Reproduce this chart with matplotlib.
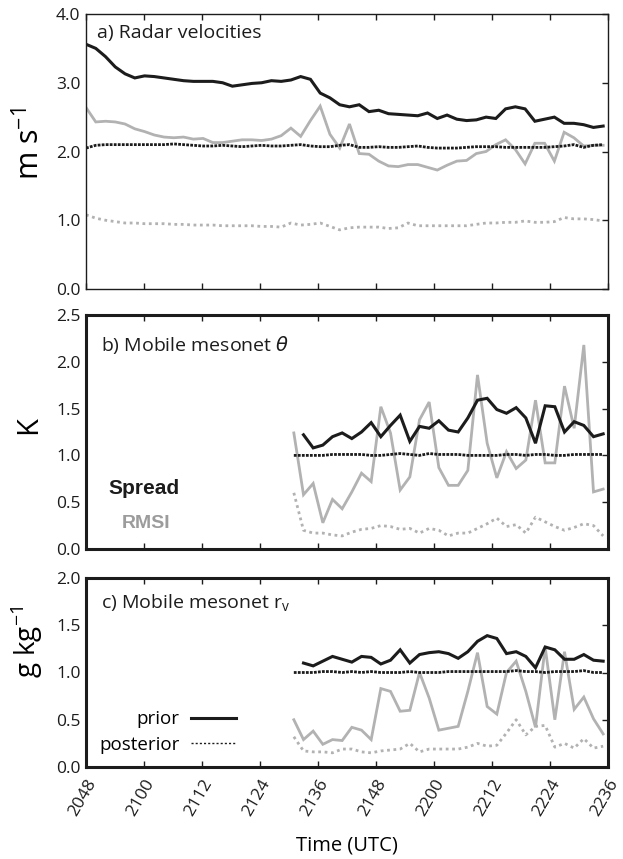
import matplotlib

matplotlib.use("Agg")
import matplotlib.pyplot as plt  # noqa: E402
import numpy as np
from matplotlib.lines import Line2D

plt.rcParams["font.family"] = ["Open Sans", "DejaVu Sans"]

# x axis: minutes after 2048 UTC
tick_minutes = np.arange(0, 109, 12)
tick_labels = ["2048", "2100", "2112", "2124", "2136", "2148", "2200", "2212", "2224", "2236"]

# a) radar velocities (every ~2 min for whole period)
t_radar = np.linspace(0, 107, 54)
radar_spread_prior = [
    3.56, 3.50, 3.38, 3.23, 3.13, 3.07, 3.10, 3.09, 3.07, 3.05,
    3.03, 3.02, 3.02, 3.02, 3.00, 2.95, 2.97, 2.99, 3.00, 3.03,
    3.02, 3.04, 3.09, 3.05, 2.85, 2.78, 2.68, 2.65, 2.68, 2.58,
    2.60, 2.55, 2.54, 2.53, 2.52, 2.56, 2.48, 2.53, 2.47, 2.45,
    2.46, 2.50, 2.48, 2.62, 2.65, 2.62, 2.44, 2.47, 2.50, 2.41,
    2.41, 2.39, 2.35, 2.37,
]
radar_rmsi_prior = [
    2.64, 2.43, 2.44, 2.43, 2.40, 2.33, 2.29, 2.24, 2.21, 2.20,
    2.21, 2.18, 2.19, 2.13, 2.13, 2.15, 2.17, 2.17, 2.16, 2.18,
    2.23, 2.34, 2.22, 2.45, 2.66, 2.25, 2.05, 2.40, 1.97, 1.96,
    1.86, 1.79, 1.78, 1.81, 1.81, 1.77, 1.73, 1.80, 1.86, 1.87,
    1.97, 2.00, 2.10, 2.17, 2.03, 1.82, 2.12, 2.12, 1.86, 2.28,
    2.20, 2.08, 2.09, 2.09,
]
radar_spread_post = [
    2.05, 2.09, 2.10, 2.10, 2.10, 2.10, 2.10, 2.10, 2.10, 2.11,
    2.10, 2.09, 2.08, 2.08, 2.09, 2.08, 2.07, 2.08, 2.09, 2.08,
    2.08, 2.09, 2.10, 2.08, 2.07, 2.07, 2.09, 2.10, 2.06, 2.06,
    2.07, 2.06, 2.06, 2.07, 2.08, 2.06, 2.05, 2.05, 2.05, 2.06,
    2.07, 2.07, 2.07, 2.06, 2.06, 2.06, 2.06, 2.06, 2.07, 2.08,
    2.10, 2.06, 2.09, 2.10,
]
radar_rmsi_post = [
    1.08, 1.03, 1.00, 0.98, 0.96, 0.96, 0.95, 0.95, 0.95, 0.94,
    0.94, 0.93, 0.93, 0.93, 0.92, 0.92, 0.92, 0.92, 0.91, 0.91,
    0.90, 0.96, 0.93, 0.94, 0.96, 0.91, 0.86, 0.89, 0.90, 0.90,
    0.90, 0.88, 0.89, 0.96, 0.92, 0.92, 0.92, 0.92, 0.92, 0.92,
    0.94, 0.96, 0.96, 0.97, 0.97, 0.99, 0.97, 0.97, 0.98, 1.04,
    1.02, 1.02, 1.01, 0.99,
]

# b) and c) mobile mesonet, starting ~2131 UTC
t_meso = np.arange(43, 108, 2)
theta_spread_prior = [
    np.nan, 1.22, 1.08, 1.11, 1.20, 1.24, 1.18, 1.25, 1.35, 1.20,
    1.32, 1.43, 1.15, 1.31, 1.29, 1.37, 1.27, 1.25, 1.40, 1.59,
    1.61, 1.49, 1.45, 1.51, 1.40, 1.13, 1.53, 1.52, 1.25, 1.36,
    1.32, 1.20, 1.23,
]
theta_rmsi_prior = [
    1.24, 0.58, 0.70, 0.28, 0.53, 0.43, 0.61, 0.81, 0.72, 1.52,
    1.24, 0.63, 0.77, 1.38, 1.57, 0.87, 0.68, 0.68, 0.84, 1.86,
    1.13, 0.76, 1.04, 0.86, 0.95, 1.59, 0.92, 0.92, 1.74, 1.29,
    2.18, 0.61, 0.64,
]
theta_spread_post = [
    1.00, 1.00, 1.00, 1.00, 1.01, 1.01, 1.01, 1.01, 1.00, 1.00,
    1.01, 1.02, 1.01, 1.00, 1.02, 1.01, 1.01, 1.01, 1.00, 1.00,
    1.00, 1.00, 1.01, 1.01, 1.00, 1.01, 1.01, 1.00, 1.00, 1.01,
    1.01, 1.01, 1.01,
]
theta_rmsi_post = [
    0.60, 0.20, 0.17, 0.17, 0.15, 0.14, 0.18, 0.21, 0.22, 0.25,
    0.24, 0.21, 0.22, 0.17, 0.22, 0.20, 0.14, 0.17, 0.17, 0.22,
    0.27, 0.33, 0.24, 0.26, 0.17, 0.34, 0.29, 0.24, 0.20, 0.23,
    0.27, 0.25, 0.14,
]

rv_spread_prior = [
    np.nan, 1.10, 1.07, 1.12, 1.17, 1.14, 1.11, 1.17, 1.16, 1.09,
    1.13, 1.24, 1.10, 1.19, 1.21, 1.22, 1.20, 1.15, 1.22, 1.33,
    1.39, 1.36, 1.20, 1.22, 1.17, 1.05, 1.27, 1.24, 1.14, 1.14,
    1.19, 1.13, 1.12,
]
rv_rmsi_prior = [
    0.50, 0.29, 0.38, 0.24, 0.29, 0.28, 0.42, 0.39, 0.29, 0.83,
    0.80, 0.59, 0.60, 1.00, 0.73, 0.39, 0.41, 0.43, 0.80, 1.21,
    0.64, 0.56, 1.00, 1.12, 0.80, 0.42, 1.27, 0.50, 1.22, 0.61,
    0.74, 0.51, 0.35,
]
rv_spread_post = [
    1.00, 1.00, 1.00, 1.01, 1.01, 1.00, 1.01, 1.00, 1.01, 1.00,
    1.00, 1.00, 1.01, 1.00, 1.00, 1.00, 1.01, 1.01, 1.01, 1.01,
    1.01, 1.01, 1.01, 1.02, 1.01, 1.01, 1.00, 1.01, 1.01, 1.01,
    1.02, 1.00, 1.00,
]
rv_rmsi_post = [
    0.32, 0.17, 0.16, 0.16, 0.15, 0.19, 0.19, 0.16, 0.15, 0.17,
    0.18, 0.19, 0.25, 0.16, 0.19, 0.19, 0.19, 0.19, 0.21, 0.25,
    0.22, 0.23, 0.36, 0.50, 0.34, 0.43, 0.44, 0.21, 0.25, 0.20,
    0.30, 0.20, 0.22,
]

BLACK = "#1c1c1c"
GRAY = "#b2b2b2"


def draw(ax, t, sp, rp, so, ro):
    ax.plot(t, rp, color=GRAY, lw=2.0, solid_joinstyle="miter")
    ax.plot(t, sp, color=BLACK, lw=2.2, solid_joinstyle="miter")
    ax.plot(t, ro, color=GRAY, lw=2.0, linestyle=(0, (1.0, 1.3)))
    ax.plot(t, so, color=BLACK, lw=2.0, linestyle=(0, (1.0, 0.45)))


def style(ax, ymax, step, frame_lw):
    ax.set_xlim(0, 108)
    ax.set_ylim(0, ymax)
    ax.set_xticks(tick_minutes)
    ax.set_yticks(np.arange(0, ymax + 0.001, step))
    ax.yaxis.set_major_formatter(plt.FuncFormatter(lambda v, _: f"{v:.1f}"))
    ax.tick_params(direction="in", top=True, right=True, length=4, width=1,
                   labelsize=12.5, colors=BLACK)
    ax.tick_params(axis="y", which="both", left=False, pad=4)
    for s in ax.spines.values():
        s.set_linewidth(frame_lw)
        s.set_color(BLACK)


fig = plt.figure(figsize=(6.23, 8.59), dpi=100)
L, W = 86 / 623, 522 / 623
ax_a = fig.add_axes([L, 1 - 289 / 859, W, 275 / 859])
ax_b = fig.add_axes([L, 1 - 549 / 859, W, 234 / 859])
ax_c = fig.add_axes([L, 1 - 767 / 859, W, 189 / 859])

draw(ax_a, t_radar, radar_spread_prior, radar_rmsi_prior, radar_spread_post, radar_rmsi_post)
draw(ax_b, t_meso, theta_spread_prior, theta_rmsi_prior, theta_spread_post, theta_rmsi_post)
draw(ax_c, t_meso, rv_spread_prior, rv_rmsi_prior, rv_spread_post, rv_rmsi_post)

style(ax_a, 4.0, 1.0, 1.0)
style(ax_b, 2.5, 0.5, 2.2)
style(ax_c, 2.0, 0.5, 2.2)

ax_a.tick_params(labelbottom=False)
ax_b.tick_params(labelbottom=False)
ax_c.set_xticklabels(tick_labels, rotation=60, ha="right", rotation_mode="anchor")
ax_c.tick_params(axis="x", pad=7)

ax_a.set_ylabel("m s$^{\\mathregular{-1}}$", fontsize=22)
ax_b.set_ylabel("K", fontsize=21)
ax_c.set_ylabel("g kg$^{\\mathregular{-1}}$", fontsize=20)
ax_a.yaxis.set_label_coords(-0.075, 0.53)
ax_b.yaxis.set_label_coords(-0.082, 0.53)
ax_c.yaxis.set_label_coords(-0.078, 0.66)
ax_c.set_xlabel("Time (UTC)", fontsize=14.5)
ax_c.xaxis.set_label_coords(0.5, -0.36)

ax_a.text(0.021, 0.931, "a) Radar velocities", transform=ax_a.transAxes,
          fontsize=14, va="center", color=BLACK)
ax_b.text(0.029, 0.872, "b) Mobile mesonet $\\theta$", transform=ax_b.transAxes,
          fontsize=14, va="center", color=BLACK)
ax_c.text(0.029, 0.868, "c) Mobile mesonet r$_\\mathregular{v}$", transform=ax_c.transAxes,
          fontsize=14, va="center", color=BLACK)

ax_b.text(0.042, 0.26, "Spread", transform=ax_b.transAxes, fontsize=15,
          fontweight="bold", family="Liberation Sans", va="center", color=BLACK)
ax_b.text(0.069, 0.107, "RMSI", transform=ax_b.transAxes, fontsize=14,
          fontweight="bold", family="Liberation Sans", va="center", color="#9c9c9c")

handles = [Line2D([], [], color=BLACK, lw=2.2),
           Line2D([], [], color=BLACK, lw=1.0, linestyle=(0, (1.5, 1.5)))]
ax_c.legend(handles, ["prior", "posterior"], markerfirst=False, frameon=False,
            loc="lower left", bbox_to_anchor=(0.025, 0.07), fontsize=13.5,
            handlelength=2.4, handletextpad=0.6, labelspacing=0.4, borderpad=0,
            borderaxespad=0)

fig.savefig("out.png", dpi=100)
